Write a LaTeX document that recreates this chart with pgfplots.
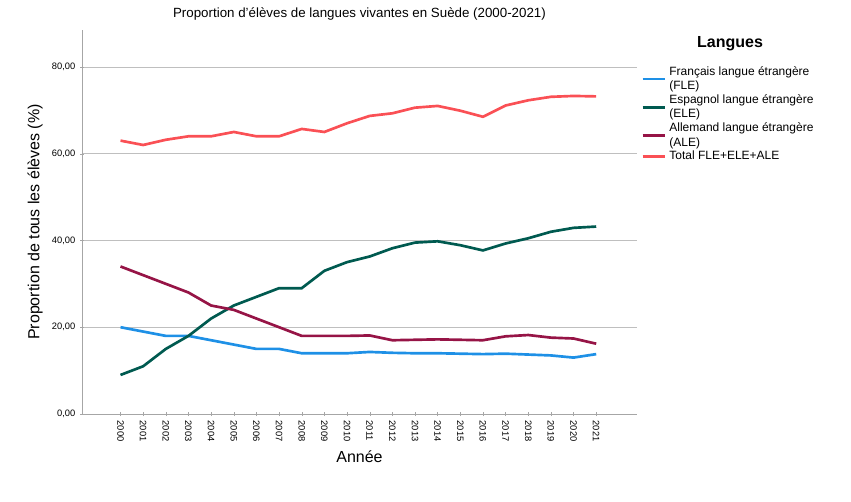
\documentclass[border=0pt]{standalone}
\usepackage{pgfplots}
\pgfplotsset{compat=1.18}
\usepackage{fontspec}
\setmainfont{Liberation Sans}
\definecolor{cfle}{RGB}{30,144,230}
\definecolor{cele}{RGB}{0,90,80}
\definecolor{cale}{RGB}{150,20,70}
\definecolor{ctot}{RGB}{250,80,85}
\begin{document}
\begin{tikzpicture}
\useasboundingbox (0,0) rectangle (638.25pt,375.75pt);
\begin{axis}[at={(61.5pt,65.25pt)},anchor=south west,scale only axis,
 width=416.25pt,height=288pt,
 xmin=1998.3,xmax=2022.8,ymin=0,ymax=88.5,
 axis x line=bottom,axis y line=left,axis line style={-,gray!70},
 xtick={2000,...,2021},
 xticklabel style={rotate=-90,anchor=west,font=\scriptsize},
 x tick label style={/pgf/number format/1000 sep={}},
 ytick={0,20,40,60,80},
 yticklabel style={font=\scriptsize},
 yticklabel={\pgfmathprintnumber[fixed,fixed zerofill,precision=2,use comma]{\tick}},
 /pgf/number format/assume math mode=true,
 ymajorgrids, grid style={gray!50},
 tick style={gray!70}, major tick length=3pt,
 xlabel={Année}, ylabel={Proportion de tous les élèves (\%)},
 label style={font=\large},
 title={Proportion d'élèves de langues vivantes en Suède (2000-2021)},
 title style={font=\normalsize, yshift=-2pt},
 legend style={at={(1.0,0.92)},anchor=north west,draw=none,font=\small,
   cells={anchor=west,align=left}, row sep=-2pt},
 legend cell align=left,
 every axis plot/.append style={line width=2pt}]
\addplot[cfle] coordinates {(2000,20)(2001,19)(2002,18)(2003,18)(2004,17)(2005,16)(2006,15)(2007,15)(2008,14)(2009,14)(2010,14)(2011,14.3)(2012,14.1)(2013,14)(2014,14)(2015,13.9)(2016,13.8)(2017,13.9)(2018,13.7)(2019,13.5)(2020,13)(2021,13.8)};
\addlegendentry{Français langue étrangère\\(FLE)}
\addplot[cele] coordinates {(2000,9)(2001,11)(2002,15)(2003,18)(2004,22)(2005,25)(2006,27)(2007,29)(2008,29)(2009,33)(2010,35)(2011,36.3)(2012,38.2)(2013,39.5)(2014,39.8)(2015,38.9)(2016,37.7)(2017,39.3)(2018,40.5)(2019,42)(2020,42.9)(2021,43.2)};
\addlegendentry{Espagnol langue étrangère\\(ELE)}
\addplot[cale] coordinates {(2000,34)(2001,32)(2002,30)(2003,28)(2004,25)(2005,24)(2006,22)(2007,20)(2008,18)(2009,18)(2010,18)(2011,18.1)(2012,17)(2013,17.1)(2014,17.2)(2015,17.1)(2016,17)(2017,17.9)(2018,18.2)(2019,17.6)(2020,17.4)(2021,16.2)};
\addlegendentry{Allemand langue étrangère\\(ALE)}
\addplot[ctot] coordinates {(2000,63)(2001,62)(2002,63.2)(2003,64)(2004,64)(2005,65)(2006,64)(2007,64)(2008,65.7)(2009,65)(2010,67)(2011,68.7)(2012,69.3)(2013,70.6)(2014,71)(2015,69.9)(2016,68.5)(2017,71.1)(2018,72.3)(2019,73.1)(2020,73.3)(2021,73.2)};
\addlegendentry{Total FLE+ELE+ALE}
\end{axis}
\node[font=\large\bfseries] at (547.5pt,342.75pt) {Langues};
\end{tikzpicture}
\end{document}
